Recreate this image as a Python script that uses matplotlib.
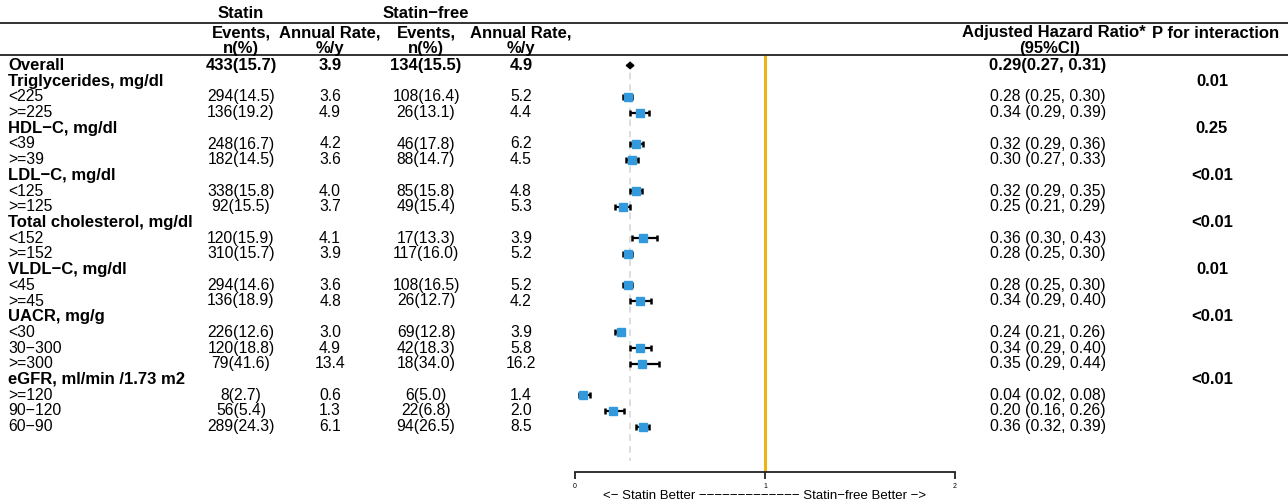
import matplotlib.pyplot as plt
import matplotlib.transforms as mtransforms

plt.rcParams['font.family'] = ['Liberation Sans', 'DejaVu Sans']

# ---- data ----
labels = ["Overall", "Triglycerides, mg/dl", "<225", ">=225",
          "HDL\u2212C, mg/dl", "<39", ">=39",
          "LDL\u2212C, mg/dl", "<125", ">=125",
          "Total cholesterol, mg/dl", "<152", ">=152",
          "VLDL\u2212C, mg/dl", "<45", ">=45",
          "UACR, mg/g", "<30", "30\u2212300", ">=300",
          "eGFR, ml/min /1.73 m2", ">=120", "90\u2212120", "60\u221290"]
is_header = [True, True, False, False, True, False, False, True, False, False,
             True, False, False, True, False, False, True, False, False, False,
             True, False, False, False]
statin_events = ["433(15.7)", "", "294(14.5)", "136(19.2)", "", "248(16.7)", "182(14.5)",
                 "", "338(15.8)", "92(15.5)", "", "120(15.9)", "310(15.7)",
                 "", "294(14.6)", "136(18.9)", "", "226(12.6)", "120(18.8)", "79(41.6)",
                 "", "8(2.7)", "56(5.4)", "289(24.3)"]
statin_rate = ["3.9", "", "3.6", "4.9", "", "4.2", "3.6", "", "4.0", "3.7", "", "4.1", "3.9",
               "", "3.6", "4.8", "", "3.0", "4.9", "13.4", "", "0.6", "1.3", "6.1"]
free_events = ["134(15.5)", "", "108(16.4)", "26(13.1)", "", "46(17.8)", "88(14.7)",
               "", "85(15.8)", "49(15.4)", "", "17(13.3)", "117(16.0)",
               "", "108(16.5)", "26(12.7)", "", "69(12.8)", "42(18.3)", "18(34.0)",
               "", "6(5.0)", "22(6.8)", "94(26.5)"]
free_rate = ["4.9", "", "5.2", "4.4", "", "6.2", "4.5", "", "4.8", "5.3", "", "3.9", "5.2",
             "", "5.2", "4.2", "", "3.9", "5.8", "16.2", "", "1.4", "2.0", "8.5"]
hr = [0.29, None, 0.28, 0.34, None, 0.32, 0.30, None, 0.32, 0.25, None, 0.36, 0.28,
      None, 0.28, 0.34, None, 0.24, 0.34, 0.35, None, 0.04, 0.20, 0.36]
lo = [0.27, None, 0.25, 0.29, None, 0.29, 0.27, None, 0.29, 0.21, None, 0.30, 0.25,
      None, 0.25, 0.29, None, 0.21, 0.29, 0.29, None, 0.02, 0.16, 0.32]
hi = [0.31, None, 0.30, 0.39, None, 0.36, 0.33, None, 0.35, 0.29, None, 0.43, 0.30,
      None, 0.30, 0.40, None, 0.26, 0.40, 0.44, None, 0.08, 0.26, 0.39]
p_inter = ["", "0.01", "", "", "0.25", "", "", "<0.01", "", "", "<0.01", "", "",
           "0.01", "", "", "<0.01", "", "", "", "<0.01", "", "", ""]

W, H = 1288, 504
fig = plt.figure(figsize=(W / 100, H / 100), dpi=100)

# forest axes placed so that 0..2 spans pixels 575..955
row0, dy = 65.5, 15.7
ax_top, ax_bot = 56, 472
ax = fig.add_axes([575 / W, 1 - ax_bot / H, 380 / W, (ax_bot - ax_top) / H])
ax.set_xlim(0, 2)
ax.set_ylim((ax_bot - row0) / dy, -(row0 - ax_top) / dy)
for s in ["top", "right", "left"]:
    ax.spines[s].set_visible(False)
ax.spines["bottom"].set_linewidth(1.3)
ax.spines["bottom"].set_color("#222222")
ax.set_yticks([])
ax.set_xticks([0, 1, 2])
ax.set_xticklabels(["0", "1", "2"], fontsize=5)
ax.tick_params(axis="x", length=5, width=1.3, pad=3, color="#222222")
ax.set_xlabel("<\u2212 Statin Better " + "\u2212" * 13 + " Statin\u2212free Better \u2212>",
              fontsize=9.5, labelpad=0)

ax.axvline(1, color="#EDB416", lw=2.2, zorder=1)
ax.plot([hr[0], hr[0]], [-0.3, 25.2], color="#D8D8D8", lw=1.2, ls=(0, (4, 3)), zorder=0)

for i in range(len(labels)):
    if hr[i] is None:
        continue
    if i == 0:
        ax.fill([lo[i], hr[i], hi[i], hr[i]], [i, i - 0.2, i, i + 0.2], color="black", zorder=3)
    else:
        ax.errorbar(hr[i], i, xerr=[[hr[i] - lo[i]], [hi[i] - hr[i]]], fmt="s",
                    color="#3399DD", ecolor="black", elinewidth=1.6, capsize=2.4,
                    capthick=1.8, markersize=5.5, zorder=3)

# text columns: x in figure fraction, y in row units
tr = mtransforms.blended_transform_factory(fig.transFigure, ax.transData)
fs, fsb = 11.3, 12.0
x_lab, x_se, x_sr, x_fe, x_fr, x_hr, x_p = 8, 241, 330, 426, 521, 1048, 1212
for i, lab in enumerate(labels):
    bold = is_header[i]
    ax.text(x_lab / W, i, lab, transform=tr, fontsize=fsb if bold else fs,
            fontweight="bold" if bold else "normal",
            ha="left", va="center", clip_on=False)
    vfs = fsb if i == 0 else fs
    vfw = "bold" if i == 0 else "normal"
    for xc, col in [(x_se, statin_events), (x_sr, statin_rate),
                    (x_fe, free_events), (x_fr, free_rate)]:
        if col[i]:
            ax.text(xc / W, i, col[i], transform=tr, fontsize=vfs, fontweight=vfw,
                    ha="center", va="center", clip_on=False)
    if hr[i] is not None:
        if i == 0:
            s = f"{hr[i]:.2f}({lo[i]:.2f}, {hi[i]:.2f})"
        else:
            s = f"{hr[i]:.2f} ({lo[i]:.2f}, {hi[i]:.2f})"
        ax.text(x_hr / W, i, s, transform=tr, fontsize=vfs, fontweight=vfw,
                ha="center", va="center", clip_on=False)
    if p_inter[i]:
        ax.text(x_p / W, i, p_inter[i], transform=tr, fontsize=fsb, fontweight="bold",
                ha="center", va="center", clip_on=False)

# header
def ftext(x, y, s, **kw):
    fig.text(x / W, 1 - y / H, s, fontsize=fsb, fontweight="bold", ha="center",
             va="center", **kw)

ftext(x_se, 14, "Statin")
ftext(x_fe, 14, "Statin\u2212free")
for xc, a, b in [(x_se, "Events,", "n(%)"), (x_sr, "Annual Rate,", "%/y"),
                 (x_fe, "Events,", "n(%)"), (x_fr, "Annual Rate,", "%/y")]:
    ftext(xc, 33, a)
    ftext(xc, 48, b)
ftext(1054, 33, "Adjusted Hazard Ratio*")
ftext(1216, 33, "P for interaction")
ftext(1050, 48, "(95%CI)")

for yl in [23, 55]:
    fig.add_artist(plt.Line2D([0, 1], [1 - yl / H, 1 - yl / H], transform=fig.transFigure,
                              color="#222222", lw=1.3))

fig.savefig("out.png", dpi=100)
